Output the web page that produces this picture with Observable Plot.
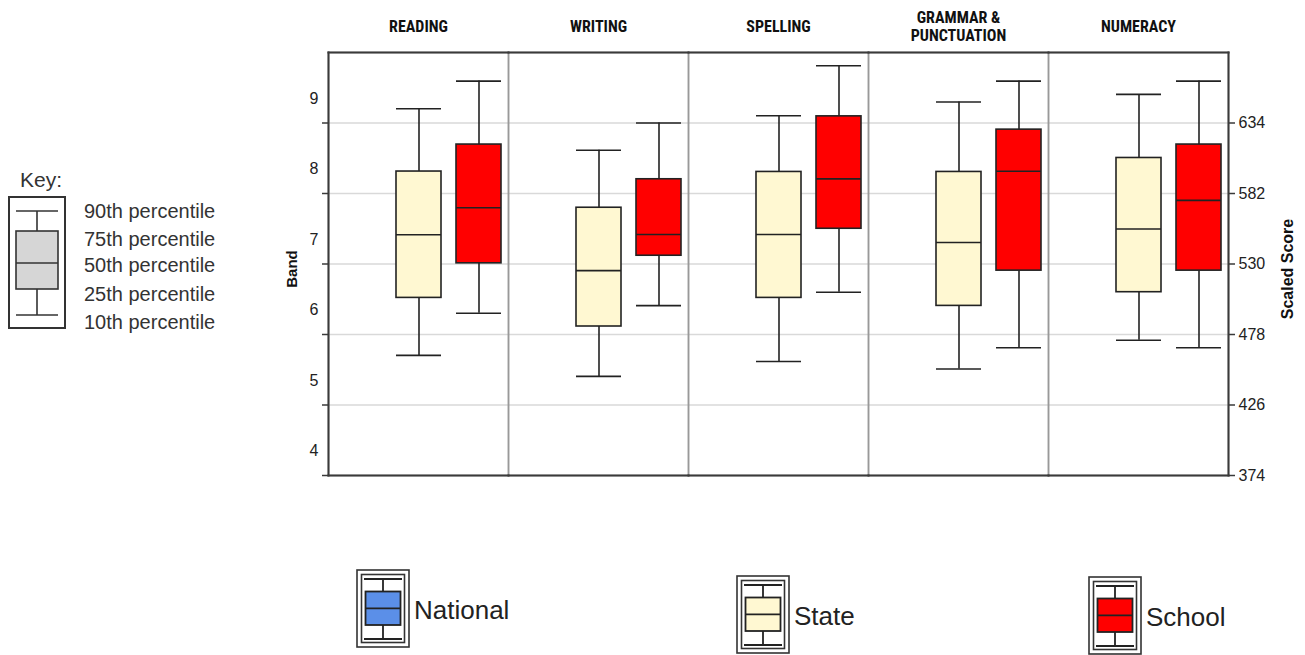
<!DOCTYPE html>
<html>
<head>
<meta charset="utf-8">
<script src="https://cdn.jsdelivr.net/npm/d3@7"></script>
<script src="https://cdn.jsdelivr.net/npm/@observablehq/plot@0.6"></script>
<style>
  html, body { margin: 0; padding: 0; background: #fff; }
  #wrap { position: relative; width: 1305px; height: 655px; overflow: hidden; background: #fff; }
  #chart { position: absolute; left: 0; top: 0; }
  #overlay { position: absolute; left: 0; top: 0; }
  #chart svg g[aria-label="y-axis tick label"] { font-size: 16px !important; }
</style>
</head>
<body>
<div id="wrap">
  <div id="chart"></div>
  <svg id="overlay" width="1305" height="655"></svg>
</div>
<script>
// ---------------- data ----------------
const subjects = ["READING", "WRITING", "SPELLING", "GRAMMAR & PUNCTUATION", "NUMERACY"];
const subjectLabels = ["READING", "WRITING", "SPELLING", "GRAMMAR &\nPUNCTUATION", "NUMERACY"];
const groups = ["National", "State", "School"];
const groupColors = ["#5b8fe8", "#fff8d2", "#ff0000"];

// State percentiles (scaled score)
const stateP10 = [462.6, 447.1, 458.1, 452.5, 473.8];
const stateP25 = [505.0, 483.9, 505.0, 499.1, 509.2];
const stateP50 = [551.6, 525.1, 551.8, 545.9, 555.8];
const stateP75 = [598.2, 571.5, 597.9, 597.9, 608.2];
const stateP90 = [644.5, 613.9, 639.4, 649.5, 655.1];
// School percentiles (scaled score)
const schoolP10 = [493.7, 499.3, 509.2, 468.2, 468.2];
const schoolP25 = [530.5, 536.1, 556.0, 525.1, 525.1];
const schoolP50 = [571.5, 551.8, 592.8, 598.4, 576.9];
const schoolP75 = [618.1, 592.5, 638.9, 629.1, 618.1];
const schoolP90 = [664.9, 634.0, 676.2, 664.9, 664.9];

const scaledTicks = [374, 426, 478, 530, 582, 634];
const scaledDomain = [374, 686];
const bandLabels = ["4", "5", "6", "7", "8", "9"];
const bandLabelValues = [392, 444, 496, 548, 600, 652];

const keyLabels = ["90th percentile", "75th percentile", "50th percentile", "25th percentile", "10th percentile"];

// ---------------- table ----------------
const rows = [];
subjects.forEach((s, i) => {
  rows.push({subject: s, group: "State", p10: stateP10[i], p25: stateP25[i], p50: stateP50[i], p75: stateP75[i], p90: stateP90[i]});
  rows.push({subject: s, group: "School", p10: schoolP10[i], p25: schoolP25[i], p50: schoolP50[i], p75: schoolP75[i], p90: schoolP90[i]});
});

const ink = "#222";
const narrow = "'Liberation Sans Narrow', 'Arial Narrow', 'Roboto Condensed', 'Liberation Sans', sans-serif";

const chart = Plot.plot({
  width: 1305,
  height: 500,
  marginLeft: 326,
  marginRight: 75,
  marginTop: 52,
  marginBottom: 25,
  style: {fontFamily: "'Liberation Sans', Arial, sans-serif", fontSize: "16px", color: ink, background: "transparent"},
  fx: {domain: subjects, paddingInner: 0, paddingOuter: 0, axis: null, label: null},
  x: {domain: groups, paddingInner: 0.25, paddingOuter: 0.125, axis: null, label: null},
  y: {domain: scaledDomain, axis: null, label: null},
  color: {domain: groups, range: groupColors},
  marks: [
    // grid
    Plot.ruleY(scaledTicks.slice(1), {stroke: "#d9d9d9", strokeWidth: 1.5}),
    // panel separators
    Plot.frame({stroke: "#999", strokeWidth: 1.5}),
    // outer frame
    Plot.frame({anchor: "top", stroke: "#3a3a3a", strokeWidth: 2}),
    Plot.frame({anchor: "bottom", stroke: "#3a3a3a", strokeWidth: 2}),
    Plot.frame({anchor: "left", stroke: "#3a3a3a", strokeWidth: 2, facetAnchor: "left"}),
    Plot.frame({anchor: "right", stroke: "#3a3a3a", strokeWidth: 2, facetAnchor: "right"}),
    // whiskers
    Plot.ruleX(rows, {fx: "subject", x: "group", y1: "p10", y2: "p25", stroke: ink, strokeWidth: 1.6}),
    Plot.ruleX(rows, {fx: "subject", x: "group", y1: "p75", y2: "p90", stroke: ink, strokeWidth: 1.6}),
    Plot.tickY(rows, {fx: "subject", x: "group", y: "p10", stroke: ink, strokeWidth: 1.6}),
    Plot.tickY(rows, {fx: "subject", x: "group", y: "p90", stroke: ink, strokeWidth: 1.6}),
    // boxes
    Plot.barY(rows, {fx: "subject", x: "group", y1: "p25", y2: "p75", fill: "group", stroke: ink, strokeWidth: 1.6}),
    Plot.tickY(rows, {fx: "subject", x: "group", y: "p50", stroke: ink, strokeWidth: 1.6}),
    // left axis: tick marks at band boundaries, band numbers between
    Plot.axisY(scaledTicks, {anchor: "left", tickSize: 6, tickFormat: () => "", label: null, stroke: "#3a3a3a", strokeWidth: 1.5}),
    Plot.axisY(bandLabelValues, {anchor: "left", tickSize: 0, tickPadding: 10, tickFormat: d => bandLabels[bandLabelValues.indexOf(d)], label: null, fontSize: 16}),
    // right axis: scaled score
    Plot.axisY(scaledTicks, {anchor: "right", tickSize: 6, tickPadding: 4, label: null, fontSize: 16, stroke: "#3a3a3a", strokeWidth: 1.5}),
    // subject headers
    Plot.text(subjects, {fx: d => d, text: d => subjectLabels[subjects.indexOf(d)], frameAnchor: "top", dy: -26, lineAnchor: "middle", lineHeight: 1.12, fontWeight: "bold", fontSize: 16, fontFamily: narrow, fill: "#111"})
  ]
});
document.getElementById("chart").appendChild(chart);

// ---------------- overlay: axis titles, key, legend ----------------
const svg = d3.select("#overlay");
const sans = "'Liberation Sans', Arial, sans-serif";

svg.append("text")
  .attr("transform", "translate(291,269) rotate(-90)")
  .attr("text-anchor", "middle").attr("dominant-baseline", "central")
  .attr("font-family", sans).attr("font-weight", "bold").attr("font-size", 15)
  .attr("fill", "#111").text("Band");
svg.append("text")
  .attr("transform", "translate(1287,269) rotate(-90)")
  .attr("text-anchor", "middle").attr("dominant-baseline", "central")
  .attr("font-family", sans).attr("font-weight", "bold").attr("font-size", 16)
  .attr("fill", "#111").text("Scaled Score");

// Key
const key = svg.append("g");
key.append("text").attr("x", 20).attr("y", 187).attr("font-family", sans).attr("font-size", 21).attr("fill", "#333").text("Key:");
key.append("rect").attr("x", 9).attr("y", 197).attr("width", 56).attr("height", 131).attr("fill", "none").attr("stroke", "#333").attr("stroke-width", 2);
key.append("line").attr("x1", 37).attr("x2", 37).attr("y1", 211).attr("y2", 315).attr("stroke", "#333").attr("stroke-width", 1.6);
key.append("line").attr("x1", 16).attr("x2", 58).attr("y1", 211).attr("y2", 211).attr("stroke", "#333").attr("stroke-width", 1.6);
key.append("line").attr("x1", 16).attr("x2", 58).attr("y1", 315).attr("y2", 315).attr("stroke", "#333").attr("stroke-width", 1.6);
key.append("rect").attr("x", 16).attr("y", 231).attr("width", 42).attr("height", 58).attr("fill", "#d6d6d6").attr("stroke", "#333").attr("stroke-width", 1.6);
key.append("line").attr("x1", 16).attr("x2", 58).attr("y1", 263).attr("y2", 263).attr("stroke", "#333").attr("stroke-width", 1.6);
const keyY = [211, 239, 265, 294, 322];
keyLabels.forEach((t, i) => {
  key.append("text").attr("x", 84).attr("y", keyY[i]).attr("dominant-baseline", "central")
    .attr("font-family", sans).attr("font-size", 20).attr("fill", "#333").text(t);
});

// Legend
const legendPos = [[357, 570], [737, 576], [1089, 577]];
groups.forEach((g, i) => {
  const [x0, y0] = legendPos[i];
  const it = svg.append("g").attr("transform", `translate(${x0},${y0})`);
  it.append("rect").attr("x", 0).attr("y", 0).attr("width", 52).attr("height", 77).attr("fill", "#fff").attr("stroke", "#333").attr("stroke-width", 1.6);
  it.append("rect").attr("x", 4.5).attr("y", 4.5).attr("width", 43).attr("height", 68).attr("fill", "none").attr("stroke", "#333").attr("stroke-width", 1.6);
  it.append("line").attr("x1", 26).attr("x2", 26).attr("y1", 9).attr("y2", 69).attr("stroke", ink).attr("stroke-width", 1.8);
  it.append("line").attr("x1", 7).attr("x2", 45).attr("y1", 9).attr("y2", 9).attr("stroke", ink).attr("stroke-width", 1.8);
  it.append("line").attr("x1", 7).attr("x2", 45).attr("y1", 69).attr("y2", 69).attr("stroke", ink).attr("stroke-width", 1.8);
  it.append("rect").attr("x", 8.5).attr("y", 21.5).attr("width", 35).attr("height", 33.5).attr("fill", groupColors[i]).attr("stroke", ink).attr("stroke-width", 1.8);
  it.append("line").attr("x1", 8.5).attr("x2", 43.5).attr("y1", 38.3).attr("y2", 38.3).attr("stroke", ink).attr("stroke-width", 1.8);
  it.append("text").attr("x", 57).attr("y", 40).attr("dominant-baseline", "central")
    .attr("font-family", sans).attr("font-size", 26).attr("fill", "#222").text(g);
});
</script>
</body>
</html>
